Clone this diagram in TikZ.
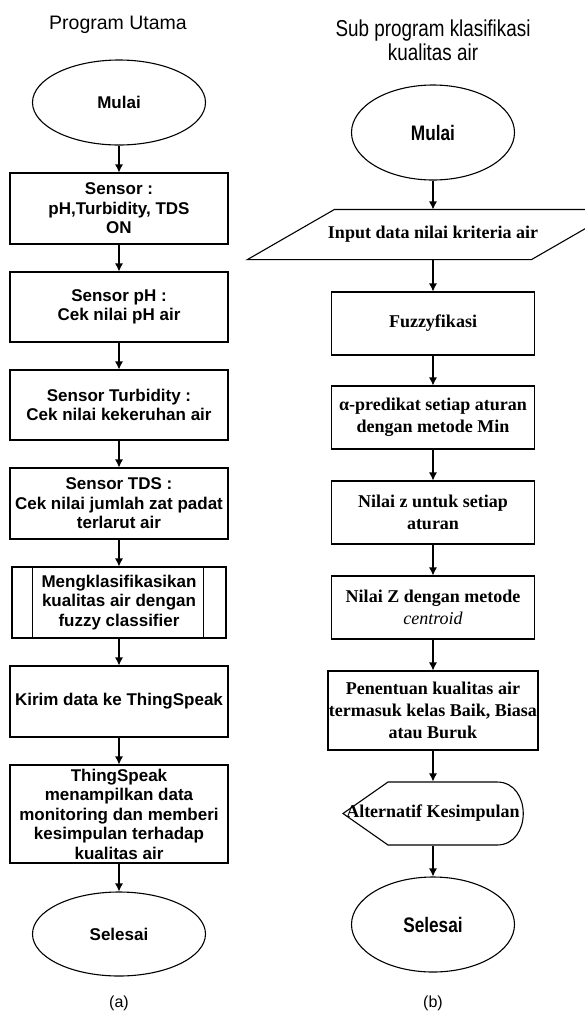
\documentclass[tikz,border=0pt]{standalone}
\usepackage{fontspec}
\setmainfont{Liberation Sans}
\newfontfamily\timesfont{Liberation Serif}
\newfontfamily\narrowfont[FakeStretch=0.82]{Liberation Sans}
\usetikzlibrary{shapes.geometric,arrows.meta}

\begin{document}
\begin{tikzpicture}[x=1pt, y=-1pt, >={Latex[length=8pt,width=8pt]}, line width=1.1pt,
    proc/.style={draw, minimum width=218pt, minimum height=70pt, inner sep=1pt, align=center,
        font=\fontsize{17}{19.5}\selectfont\bfseries},
    term/.style={draw, ellipse, minimum width=173pt, minimum height=85pt,
        font=\fontsize{17}{19.5}\selectfont\bfseries},
    procb/.style={draw, minimum width=203pt, minimum height=63pt, inner sep=1pt, align=center,
        font=\timesfont\fontsize{18}{22}\selectfont\bfseries},
    termb/.style={draw, ellipse, minimum width=163pt, minimum height=95pt,
        font=\narrowfont\fontsize{21}{24}\selectfont\bfseries}]
    \useasboundingbox (0,0) rectangle (585,1013);
    \clip (0,0) rectangle (585,1013);
    %\draw [help lines, thin] (0,0) grid[step=50pt] (585,1013);

    % (a) program utama
    \node[font=\fontsize{19.5}{22}\selectfont] (judula) at (118,25) {Program Utama};
    \node[term] (mulaia) at (119,102.5) {Mulai};
    \node[proc, minimum height=71pt] (sensor) at (119,208.5) {Sensor :\\pH,Turbidity, TDS\\ON};
    \node[proc] (ph) at (119,307) {Sensor pH :\\Cek nilai pH air};
    \node[proc] (turbid) at (119,405) {Sensor Turbidity :\\Cek nilai kekeruhan air};
    \node[proc, minimum height=71pt] (tds) at (119,503.5) {Sensor TDS :\\Cek nilai jumlah zat padat\\terlarut air};
    \node[proc, minimum width=214pt, minimum height=71pt] (klasif) at (119,602.5) {Mengklasifikasikan\\kualitas air dengan\\fuzzy classifier};
    \draw ([xshift=21pt]klasif.north west) -- ([xshift=21pt]klasif.south west);
    \draw ([xshift=-23pt]klasif.north east) -- ([xshift=-23pt]klasif.south east);
    \node[proc, minimum height=71pt] (kirim) at (119,701.5) {Kirim data ke ThingSpeak};
    \node[proc, minimum height=98pt] (tampil) at (119,814) {ThingSpeak\\menampilkan data\\monitoring dan memberi\\kesimpulan terhadap\\kualitas air};
    \node[term, minimum height=84pt] (selesaia) at (119,934) {Selesai};
    \node[font=\fontsize{16}{18}\selectfont] (capa) at (119,1003) {(a)};

    \draw[->] (mulaia) -- (sensor);
    \draw[->] (sensor) -- (ph);
    \draw[->] (ph) -- (turbid);
    \draw[->] (turbid) -- (tds);
    \draw[->] (tds) -- (klasif);
    \draw[->] (klasif) -- (kirim);
    \draw[->] (kirim) -- (tampil);
    \draw[->] (tampil) -- (selesaia);

    % (b) sub program klasifikasi
    \node[font=\narrowfont\fontsize{23}{24}\selectfont, align=center] (judulb) at (433,40) {Sub program klasifikasi\\kualitas air};
    \node[termb] (mulaib) at (433,132.5) {Mulai};
    \node[minimum width=283pt, minimum height=49pt, inner sep=0pt,
        font=\timesfont\fontsize{18}{22}\selectfont\bfseries] (input) at (433,234.5) {Input data nilai kriteria air};
    \draw ([xshift=-43.5pt]input.south west) -- ([xshift=43.5pt]input.north west)
        -- ([xshift=43.5pt]input.north east) -- ([xshift=-43.5pt]input.south east) -- cycle;
    \node[procb] (fuzzy) at (433,323.5) {Fuzzyfikasi};
    \node[procb] (alpha) at (433,417.5) {α-predikat setiap aturan\\dengan metode Min};
    \node[procb] (nilaiz) at (433,512.5) {Nilai z untuk setiap\\aturan};
    \node[procb] (centro) at (433,607.5) {Nilai Z dengan metode\\{\mdseries\itshape centroid}};
    \node[procb, minimum height=79pt] (tentu) at (433,710.5) {Penentuan kualitas air\\termasuk kelas Baik, Biasa\\atau Buruk};
    \node[minimum width=180pt, minimum height=63pt, inner sep=0pt,
        font=\timesfont\fontsize{18}{22}\selectfont\bfseries] (alter) at (433,813.5) {Alternatif Kesimpulan};
    \draw (343,813.5) -- (388,782) -- (497,782) .. controls (532,782) and (532,845) .. (497,845) -- (388,845) -- cycle;
    \node[termb] (selesaib) at (433,924.5) {Selesai};
    \node[font=\fontsize{16}{18}\selectfont] (capb) at (433,1003) {(b)};

    \draw[->] (mulaib) -- (input);
    \draw[->] (input) -- (fuzzy);
    \draw[->] (fuzzy) -- (alpha);
    \draw[->] (alpha) -- (nilaiz);
    \draw[->] (nilaiz) -- (centro);
    \draw[->] (centro) -- (tentu);
    \draw[->] (tentu) -- (alter);
    \draw[->] (alter) -- (selesaib);
\end{tikzpicture}
\end{document}
